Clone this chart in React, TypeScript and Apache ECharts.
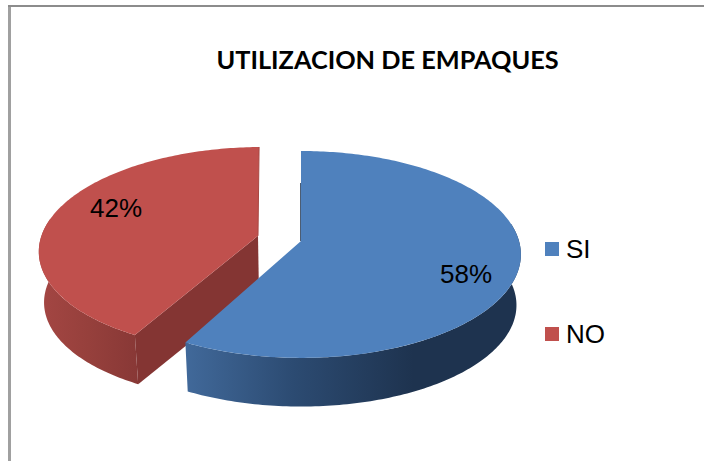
import React, { useEffect, useRef } from "react";
import * as echarts from "echarts";

const categories = ["SI", "NO"];
const shares = [58, 42];
const colors = ["#4F81BD", "#C0504D"];
const titleText = "UTILIZACION DE EMPAQUES";

const APEX = { x: 301, y: 241 };
const RX = 218;
const B = 101.7;
const K = -0.13;
const DEPTH = 51;
const FLOOR = 0.98;
const EXPLODE = [0, 0.205];
const TRIM = [0.014, 0.02];
const total = shares.reduce((a, b) => a + b, 0);

function project(u: number, v: number, lower: boolean) {
  const den = 1 + K * v;
  const s = lower ? FLOOR : 1;
  return [
    APEX.x + (RX * s * u) / den,
    APEX.y + (lower ? DEPTH : 0) + (B * s * v) / den,
  ];
}

function sliceGeometry(index: number) {
  const before = shares.slice(0, index).reduce((a, b) => a + b, 0);
  const start = (before / total) * Math.PI * 2;
  const end = ((before + shares[index]) / total) * Math.PI * 2;
  const mid = (start + end) / 2;
  const ox = Math.sin(mid) * EXPLODE[index];
  const oy = -Math.cos(mid) * EXPLODE[index];
  const at = (t: number, lower = false) =>
    project(ox + Math.sin(t), oy - Math.cos(t), lower);
  const centre = (lower = false) => project(ox, oy, lower);
  return { start, end: end - (index === 0 ? TRIM[0] : TRIM[1]), mid, at, centre };
}

function rim(g: any, a: number, b: number, lower: boolean) {
  const pts: number[][] = [];
  const n = Math.max(8, Math.ceil(Math.abs(b - a) * 60));
  for (let i = 0; i <= n; i++) pts.push(g.at(a + ((b - a) * i) / n, lower));
  return pts;
}

const sideFill: any[] = [
  {
    type: "linear",
    x: 0,
    y: 0,
    x2: 1,
    y2: 0,
    colorStops: [
      { offset: 0, color: "#41699A" },
      { offset: 0.32, color: "#2C4B72" },
      { offset: 0.68, color: "#1E334F" },
      { offset: 1, color: "#1E334F" },
    ],
  },
  {
    type: "linear",
    x: 0,
    y: 0,
    x2: 1,
    y2: 0,
    colorStops: [
      { offset: 0, color: "#A44643" },
      { offset: 0.5, color: "#96403C" },
      { offset: 1, color: "#883836" },
    ],
  },
];

function renderSlice(index: number) {
  return (_params: any, api: any) => {
    api.value(0);
    const g = sliceGeometry(index);
    const children: any[] = [];
    const top = rim(g, g.start, g.end, false);

    if (index === 0) {
      // thin sliver of the hidden back wall
      const c = g.centre();
      children.push({
        type: "line",
        shape: { x1: c[0] - 0.5, y1: c[1], x2: c[0] - 0.5, y2: c[1] - 58 },
        style: { stroke: "#1E334F", lineWidth: 0.8 },
      });
      const sideFrom = (Math.PI / 180) * 80;
      const a = rim(g, sideFrom, g.end, false);
      const b = rim(g, sideFrom, g.end, true);
      children.push({
        type: "polygon",
        shape: { points: a.concat(b.reverse()) },
        style: { fill: sideFill[0] },
      });
    } else {
      const sideTo = (Math.PI / 180) * 280;
      const a = rim(g, g.start, sideTo, false);
      const b = rim(g, g.start, sideTo, true);
      children.push({
        type: "polygon",
        shape: { points: a.concat(b.reverse()) },
        style: { fill: sideFill[1] },
      });
      const t0 = g.at(g.start);
      const t1 = g.at(g.start, true);
      const c0 = g.centre();
      const c1 = g.centre(true);
      children.push({
        type: "polygon",
        shape: { points: [t0, t1, c1, c0] },
        style: { fill: "#843533" },
      });
    }

    const c = g.centre();
    children.push({
      type: "polygon",
      shape: { points: [c, ...top] },
      style: { fill: colors[index] },
    });

    if (index === 1) {
      const e = g.at(g.end);
      children.push({
        type: "line",
        shape: { x1: c[0], y1: c[1], x2: e[0], y2: e[1] },
        style: { stroke: "#A84843", lineWidth: 1 },
      });
    }

    const labelPos = index === 0 ? [466, 274] : [116, 208];
    children.push({
      type: "text",
      x: labelPos[0],
      y: labelPos[1],
      style: {
        text: `${shares[index]}%`,
        fill: "#000",
        font: "26px 'Liberation Sans'",
        align: "center",
        verticalAlign: "middle",
      },
    });
    return { type: "group", children };
  };
}

export default function App() {
  const ref = useRef<HTMLDivElement>(null);
  useEffect(() => {
    document.body.style.margin = "0";
    const chart = echarts.init(ref.current!, undefined, { renderer: "svg" });
    chart.setOption({
      animation: false,
      backgroundColor: "#fff",
      title: {
        text: titleText,
        left: 216.5,
        top: 46,
        padding: 0,
        textStyle: {
          fontFamily: "Lato",
          fontWeight: "bold",
          fontSize: 25.3,
          color: "#000",
        },
      },
      legend: {
        orient: "vertical",
        left: 545,
        top: 236,
        itemWidth: 14,
        itemHeight: 14,
        itemGap: 59,
        padding: 0,
        icon: "rect",
        data: categories,
        textStyle: {
          fontFamily: "Liberation Sans",
          fontSize: 26,
          color: "#000",
          lineHeight: 14,
          padding: [0, 0, 0, 2],
        },
      },
      graphic: [
        {
          type: "line",
          shape: { x1: 9.5, y1: 5, x2: 9.5, y2: 461 },
          style: { stroke: "#A0A0A0", lineWidth: 3 },
          silent: true,
        },
        {
          type: "line",
          shape: { x1: 8, y1: 6, x2: 704, y2: 6 },
          style: { stroke: "#8C8C8C", lineWidth: 2 },
          silent: true,
        },
      ],
      series: categories.map((name, i) => ({
        type: "custom",
        name,
        coordinateSystem: "none",
        z: i === 0 ? 4 : 3,
        itemStyle: { color: colors[i] },
        data: [shares[i]],
        renderItem: renderSlice(i),
      })),
    });
    return () => chart.dispose();
  }, []);
  return <div ref={ref} style={{ position: "fixed", left: 0, top: 0, width: 704, height: 461 }} />;
}
